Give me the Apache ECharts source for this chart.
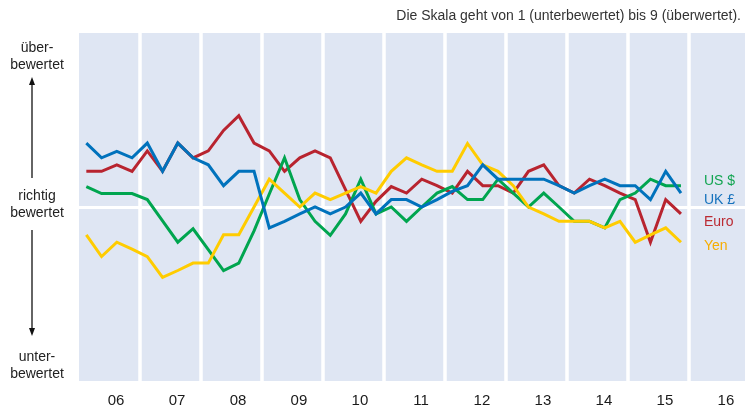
<!DOCTYPE html>
<html>
<head>
<meta charset="utf-8">
<script src="https://cdn.jsdelivr.net/npm/echarts@6/dist/echarts.min.js"></script>
<style>
html,body{margin:0;padding:0;background:#fff;}
#chart{width:746px;height:414px;}
</style>
</head>
<body>
<div id="chart"></div>
<script>
// Quarters 2006 Q1 .. 2015 Q4
const years = [2006,2007,2008,2009,2010,2011,2012,2013,2014,2015];
const quarters = [];
years.forEach(y => { for (let q = 1; q <= 4; q++) quarters.push(y + '-Q' + q); });

const usd = [5.47,5.31,5.31,5.31,5.17,4.68,4.19,4.50,4.02,3.54,
             3.71,4.45,5.30,6.13,5.17,4.67,4.35,4.84,5.64,4.84,
             5.00,4.67,5.00,5.32,5.47,5.17,5.17,5.64,5.32,5.00,
             5.32,5.00,4.67,4.67,4.52,5.17,5.32,5.64,5.49,5.49];
const gbp = [6.47,6.13,6.28,6.13,6.47,5.82,6.47,6.13,5.97,5.49,
             5.82,5.82,4.52,4.67,4.84,5.00,4.84,5.00,5.32,4.84,
             5.17,5.17,5.00,5.17,5.36,5.49,5.97,5.64,5.64,5.64,
             5.64,5.49,5.32,5.49,5.64,5.49,5.49,5.17,5.82,5.32];
const eur = [5.82,5.82,5.97,5.82,6.29,5.82,6.47,6.13,6.29,6.76,
             7.10,6.47,6.29,5.82,6.13,6.29,6.13,5.40,4.67,5.13,
             5.47,5.32,5.64,5.49,5.32,5.82,5.49,5.49,5.32,5.82,
             5.97,5.49,5.32,5.64,5.49,5.32,5.17,4.19,5.17,4.84];
const jpy = [4.36,3.86,4.19,4.03,3.86,3.38,3.54,3.71,3.71,4.36,
             4.36,5.00,5.64,5.32,5.00,5.32,5.17,5.32,5.47,5.32,
             5.82,6.13,5.97,5.82,5.82,6.46,5.97,5.82,5.49,5.00,
             4.84,4.67,4.67,4.67,4.52,4.67,4.19,4.36,4.52,4.19];

const yearTicks = ['06','07','08','09','10','11','12','13','14','15','16'];
const seriesNames = ['US $','UK £','Euro','Yen'];
const colors = {'US $':'#00a54f','UK £':'#0072bc','Euro':'#b8242f','Yen':'#ffcc00'};
const labelColors = {'US $':'#13a552','UK £':'#1672bd','Euro':'#bb2b33','Yen':'#f6ad00'};

function qToX(label){
  const y = parseInt(label.slice(0,4),10);
  const q = parseInt(label.slice(6),10);
  return y + (q-1)/4 + 0.12;
}
function pairs(arr){ return arr.map((v,i)=>[qToX(quarters[i]), v]); }

const FONT = '"Liberation Sans", Arial, Helvetica, sans-serif';
const chart = echarts.init(document.getElementById('chart'), null, {renderer:'canvas'});

function mkSeries(name, arr, z){
  return {
    name, type:'line', data: pairs(arr), symbol:'none', z,
    lineStyle:{color:colors[name], width:3, join:'miter'},
    itemStyle:{color:colors[name]}, animation:false
  };
}

const txt = (x, y, text, opts={}) => ({
  type:'text', x, y,
  style:Object.assign({text, font:'14px '+FONT, fill:'#222', align:'center', verticalAlign:'middle'}, opts)
});

chart.setOption({
  animation:false,
  textStyle:{fontFamily:FONT},
  grid:{left:79, right:1, top:33, bottom:33, show:true, backgroundColor:'#dfe6f3', borderWidth:0, containLabel:false},
  xAxis:{
    type:'value', min:2006, max:2016.92, interval:1,
    axisLine:{show:false}, axisTick:{show:false},
    splitLine:{show:true, showMinLine:false, showMaxLine:false, lineStyle:{color:'#ffffff', width:3.5}},
    axisLabel:{
      show:true, showMaxLabel:false, margin:12, fontSize:15, color:'#1a1a1a', fontFamily:FONT,
      align:'center', padding:[0,0,0,74],
      formatter: v => {
        const idx = Math.round(v) - 2006;
        return (Math.abs(v - Math.round(v)) < 1e-6 && yearTicks[idx]) ? yearTicks[idx] : '';
      }
    }
  },
  yAxis:{
    type:'value', min:1, max:9, interval:4,
    axisLine:{show:false}, axisTick:{show:false}, axisLabel:{show:false},
    splitLine:{show:true, showMinLine:false, showMaxLine:false, lineStyle:{color:'#ffffff', width:3}}
  },
  series:[
    mkSeries('Euro', eur, 2),
    mkSeries('US $', usd, 3),
    mkSeries('Yen', jpy, 4),
    mkSeries('UK £', gbp, 5)
  ],
  graphic:[
    txt(741, 16, 'Die Skala geht von 1 (unterbewertet) bis 9 (überwertet).', {align:'right', font:'14px '+FONT, fill:'#333'}),
    txt(37, 48, 'über-'),
    txt(37, 65, 'bewertet'),
    {type:'line', shape:{x1:32, y1:178, x2:32, y2:84}, style:{stroke:'#111', lineWidth:1.3}},
    {type:'polygon', shape:{points:[[32,77],[29,85],[35,85]]}, style:{fill:'#111'}},
    txt(37, 196, 'richtig'),
    txt(37, 213, 'bewertet'),
    {type:'line', shape:{x1:32, y1:230, x2:32, y2:329}, style:{stroke:'#111', lineWidth:1.3}},
    {type:'polygon', shape:{points:[[32,336],[29,328],[35,328]]}, style:{fill:'#111'}},
    txt(37, 357, 'unter-'),
    txt(37, 374, 'bewertet'),
    txt(704, 181, seriesNames[0], {align:'left', fill:labelColors['US $']}),
    txt(704, 200, seriesNames[1], {align:'left', fill:labelColors['UK £']}),
    txt(704, 222, seriesNames[2], {align:'left', fill:labelColors['Euro']}),
    txt(704, 246, seriesNames[3], {align:'left', fill:labelColors['Yen']})
  ]
});
</script>
</body>
</html>
